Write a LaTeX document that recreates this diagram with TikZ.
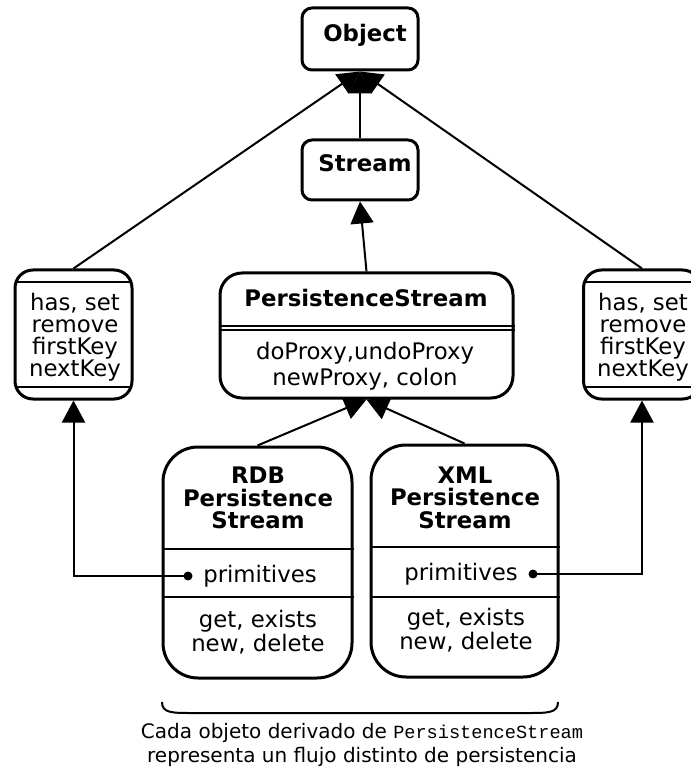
\documentclass[tikz,border=0pt]{standalone}
\usepackage{fontspec}
\setmainfont{DejaVu Sans}
\newfontfamily\codefont{Liberation Mono}
\usetikzlibrary{arrows.meta}

\begin{document}
\begin{tikzpicture}[x=0.5pt, y=-0.5pt,
    umlbox/.style={draw, line width=1.5pt, inner sep=0pt, rounded corners=#1},
    umlbox/.default=5pt,
    classname/.style={font=\bfseries\fontsize{11.4}{11.3}\selectfont, align=center, inner sep=0pt},
    member/.style={font=\fontsize{11.4}{11}\selectfont, align=center, inner sep=0pt},
    divider/.style={line width=0.7pt},
    arrow/.style={-{Triangle[length=11pt, width=11.5pt]}, line width=1pt},
    link/.style={line width=1pt},
    dot/.style={circle, fill, inner sep=0pt, minimum size=4.5pt},
    note/.style={font=\fontsize{10}{12.2}\selectfont, align=center, inner sep=0pt}
]
\useasboundingbox (0,0) rectangle (690,769);

% classes
\node[umlbox, minimum width=58pt, minimum height=31pt] (object) at (360,39) {};
\node[classname, anchor=base] (objectname) at (365,42) {Object};

\node[umlbox, minimum width=58pt, minimum height=30pt] (stream) at (360,170) {};
\node[classname, anchor=base] (streamname) at (365,172) {Stream};

\node[umlbox=11pt, minimum width=146.5pt, minimum height=62.5pt] (ps) at (366.5,335.5) {};
\node[classname, anchor=base] (psname) at (366,307) {PersistenceStream};
\node[member, font=\fontsize{11.4}{13}\selectfont] (psops) at (365,366) {doProxy,undoProxy\\newProxy, colon};
\draw[divider] (ps.west |- 0,326) -- (ps.east |- 0,326);
\draw[divider] (ps.west |- 0,330) -- (ps.east |- 0,330);

\node[umlbox=9pt, minimum width=58.5pt, minimum height=64.5pt] (lbox) at (73.5,334.5) {};
\node[member] (lboxops) at (75,337) {has, set\\remove\\firstKey\\nextKey};
\draw[divider] ([xshift=1pt]lbox.west |- 0,282) -- ([xshift=-1pt]lbox.east |- 0,282);
\draw[divider] ([xshift=1pt]lbox.west |- 0,387) -- ([xshift=-1pt]lbox.east |- 0,387);

\node[umlbox=9pt, minimum width=58.5pt, minimum height=64.5pt] (rbox) at (642,334.5) {};
\node[member] (rboxops) at (643,337) {has, set\\remove\\firstKey\\nextKey};
\draw[divider] ([xshift=1pt]rbox.west |- 0,282) -- ([xshift=-1pt]rbox.east |- 0,282);
\draw[divider] ([xshift=1pt]rbox.west |- 0,387) -- ([xshift=-1pt]rbox.east |- 0,387);

\node[umlbox=17.5pt, minimum width=94.5pt, minimum height=115.5pt] (rdb) at (257.5,562.5) {};
\node[classname] (rdbname) at (258,498) {RDB\\Persistence\\Stream};
\node[member, anchor=base] (rdbprim) at (260,582) {primitives};
\node[member] (rdbops) at (258,632) {get, exists\\new, delete};
\draw[divider] (rdb.west |- 0,549) -- (rdb.east |- 0,549);
\draw[divider] (rdb.west |- 0,597) -- (rdb.east |- 0,597);
\node[dot] (rdbdot) at (188,576) {};

\node[umlbox=17.5pt, minimum width=93.5pt, minimum height=116pt] (xml) at (464.5,561) {};
\node[classname] (xmlname) at (465,497.5) {XML\\Persistence\\Stream};
\node[member, anchor=base] (xmlprim) at (461,580) {primitives};
\node[member] (xmlops) at (466,630) {get, exists\\new, delete};
\draw[divider] (xml.west |- 0,547) -- (xml.east |- 0,547);
\draw[divider] (xml.west |- 0,597) -- (xml.east |- 0,597);
\node[dot] (xmldot) at (533,574) {};

% generalisation
\draw[arrow] (lbox.north) -- (object.south);
\draw[arrow] (stream.north) -- (object.south);
\draw[arrow] (rbox.north) -- (object.south);
\draw[arrow] (ps.north) -- (stream.south);
\draw[arrow] (rdb.north) -- (ps.south);
\draw[arrow] (xml.north) -- (ps.south);

% primitives
\draw[arrow] (rdbdot.center) -| (lbox.south);
\draw[arrow] (xmldot.center) -| (rbox.south);

% brace and note
\coordinate (bracel) at (162,702);
\coordinate (bracer) at (558,702);
\draw[link] (bracel) .. controls (162,713) and (172,713) .. (192,713) -- (528,713) .. controls (548,713) and (558,713) .. (bracer);
\node[note] (note) at (362,745) {Cada objeto derivado de {\codefont\fontsize{9.3}{12}\selectfont PersistenceStream}\\representa un flujo distinto de persistencia};
\end{tikzpicture}
\end{document}
